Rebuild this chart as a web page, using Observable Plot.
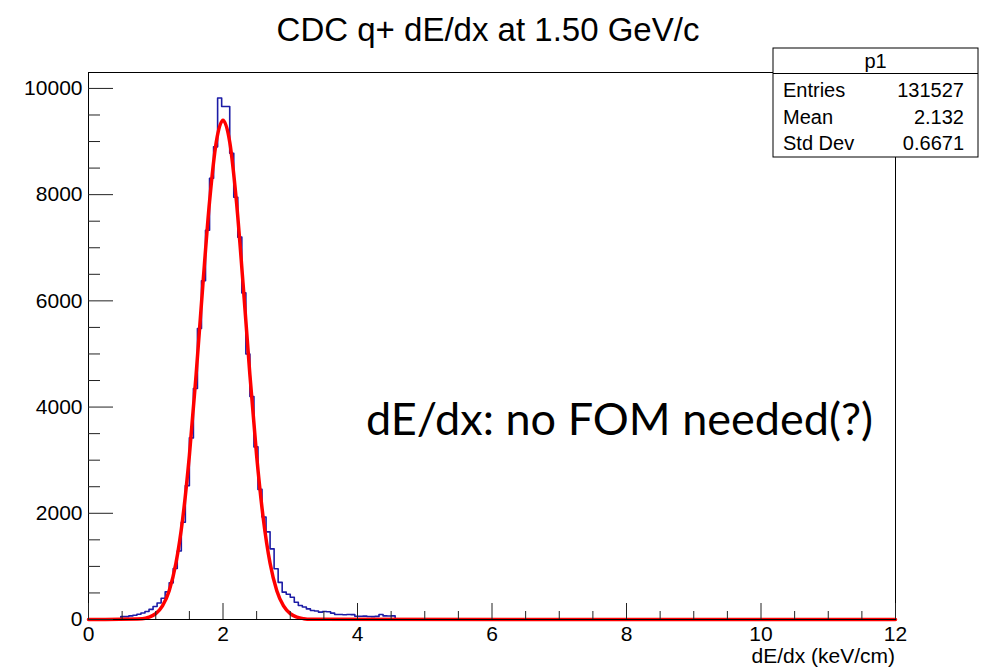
<!DOCTYPE html>
<html><head><meta charset="utf-8">
<script src="https://cdn.jsdelivr.net/npm/d3@7"></script>
<script src="https://cdn.jsdelivr.net/npm/@observablehq/plot@0.6"></script>
<style>body{margin:0;background:#fff} #chart svg{display:block}</style>
</head><body><div id="chart"></div>
<script>
// Histogram: 200 bins of width 0.06 from 0 to 12; counts listed from bin 0, later bins are empty
const binWidth = 0.06;
const nBins = 200;
const counts = [
  0, 0, 0, 0, 0, 0, 0, 0, 55, 55,
  68, 80, 100, 122, 150, 190, 245, 310, 400, 520,
  690, 960, 1290, 1830, 2520, 3420, 4350, 5480, 6380, 7330,
  8310, 8900, 9820, 9660, 9660, 8780, 7950, 7200, 6150, 5000,
  4200, 3250, 2450, 1930, 1650, 1330, 955, 700, 515, 475,
  420, 325, 265, 235, 200, 170, 160, 138, 150, 145,
  120, 94, 94, 90, 95, 92, 62, 60, 64, 57,
  55, 58, 94, 68, 66, 68
];
// Fit curve (red)
const fitX = [0, 0.8, 0.9, 1.0, 1.1, 1.2, 1.3, 1.4, 1.5, 1.6, 1.7, 1.8, 1.9, 2.0,
              2.1, 2.2, 2.3, 2.4, 2.5, 2.6, 2.7, 2.8, 2.9, 3.0, 3.1, 3.2, 3.3, 12];
const fitY = [0, 15, 43, 109, 255, 543, 1059, 1890, 3086, 4608, 6294, 7867, 8990, 9400,
              8990, 7867, 6294, 4608, 3086, 1890, 1059, 543, 255, 109, 43, 15, 4, 0];
const xMajor = [0, 2, 4, 6, 8, 10, 12];
const xMinor = [0.5, 1, 1.5, 2.5, 3, 3.5, 4.5, 5, 5.5, 6.5, 7, 7.5, 8.5, 9, 9.5, 10.5, 11, 11.5];
const yMajor = [0, 2000, 4000, 6000, 8000, 10000];
const yMinor = [500, 1000, 1500, 2500, 3000, 3500, 4500, 5000, 5500, 6500, 7000, 7500, 8500, 9000, 9500];
const title = "CDC q+ dE/dx at 1.50 GeV/c";
const xLabel = "dE/dx (keV/cm)";
const statsName = "p1";
const statsLabels = ["Entries", "Mean", "Std Dev"];
const statsValues = ["131527", "2.132", "0.6671"];
const note = "dE/dx: no FOM needed(?)";

const W = 987, H = 668, mL = 88, mR = 92, mT = 72, mB = 49;
const pw = W - mL - mR, ph = H - mT - mB;

const hist = d3.range(nBins).map(k => ({x: k * binWidth, y: counts[k] ?? 0}));
hist.push({x: 12, y: 0});
const fit = fitX.map((x, i) => ({x, y: fitY[i]}));

const font = "'Liberation Sans', Arial, Helvetica, sans-serif";
const plot = Plot.plot({
  width: W, height: H,
  marginLeft: mL, marginRight: mR, marginTop: mT, marginBottom: mB,
  x: {domain: [0, 12]},
  y: {domain: [0, 10300]},
  style: {fontFamily: font, fontSize: "21px", background: "white", color: "black"},
  marks: [
    Plot.line(hist, {x: "x", y: "y", curve: "step-after", stroke: "#1c1ca6", strokeWidth: 1.6}),
    Plot.line(fit, {x: "x", y: "y", curve: "monotone-x", stroke: "#ff0000", strokeWidth: 3.5}),
    Plot.frame({stroke: "black", strokeWidth: 1}),
    Plot.tickX(xMajor, {x: d => d, insetTop: ph - 16, stroke: "#222"}),
    Plot.tickX(xMinor, {x: d => d, insetTop: ph - 8, stroke: "#222"}),
    Plot.tickY(yMajor, {y: d => d, insetRight: pw - 25, stroke: "#222"}),
    Plot.tickY(yMinor, {y: d => d, insetRight: pw - 12, stroke: "#222"}),
    Plot.axisX(xMajor, {tickSize: 0, tickPadding: 7, fontSize: 21, label: null}),
    Plot.axisY(yMajor, {tickSize: 0, tickPadding: 6, fontSize: 21, label: null, tickFormat: d3.format("d")})
  ]
});
document.getElementById("chart").appendChild(plot);

const svg = d3.select(plot);
svg.append("text").attr("x", 488).attr("y", 41).attr("text-anchor", "middle")
  .attr("font-family", font).attr("font-size", 33).attr("fill", "black").text(title);
svg.append("text").attr("x", W - mR).attr("y", 663).attr("text-anchor", "end")
  .attr("font-family", font).attr("font-size", 21).attr("fill", "black").text(xLabel);

// stats box
const bx = 773, by = 48, bw = 205, bh = 109;
const g = svg.append("g").attr("font-family", font).attr("font-size", 20).attr("fill", "black");
g.append("rect").attr("x", bx).attr("y", by).attr("width", bw).attr("height", bh)
  .attr("fill", "white").attr("stroke", "black").attr("stroke-width", 1);
g.append("line").attr("x1", bx).attr("x2", bx + bw).attr("y1", 73.5).attr("y2", 73.5)
  .attr("stroke", "black").attr("stroke-width", 1);
g.append("text").attr("x", bx + bw / 2).attr("y", 68).attr("text-anchor", "middle").text(statsName);
statsLabels.forEach((s, i) => {
  const yy = 97 + i * 26.7;
  g.append("text").attr("x", 783).attr("y", yy).attr("text-anchor", "start").text(s);
  g.append("text").attr("x", 964).attr("y", yy).attr("text-anchor", "end").text(statsValues[i]);
});

svg.append("text").attr("x", 366).attr("y", 435).attr("text-anchor", "start")
  .attr("font-family", "Lato, 'Open Sans', sans-serif").attr("font-size", 45).attr("fill", "black").text(note);
</script></body></html>
